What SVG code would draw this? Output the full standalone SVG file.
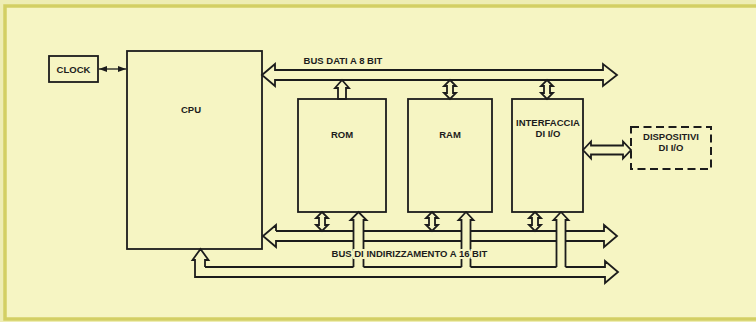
<svg xmlns="http://www.w3.org/2000/svg" width="756" height="322" viewBox="0 0 756 322">
<defs>
<style>
.bg{fill:#f6f5c3}
.frame{fill:none;stroke:#d3cf64;stroke-width:3.5}
.box{fill:none;stroke:#1c1c1c;stroke-width:1.8}
.dash{fill:none;stroke:#1c1c1c;stroke-width:2;stroke-dasharray:8 4.5}
.ln{fill:none;stroke:#1c1c1c;stroke-width:1.8;stroke-linejoin:miter}
.arr{fill:#f6f5c3;stroke:#1c1c1c;stroke-width:1.8;stroke-linejoin:miter}
.thin{fill:none;stroke:#1c1c1c;stroke-width:1.3}
text{font-family:"Liberation Sans",Arial,sans-serif;font-weight:bold;font-size:9.5px;fill:#1c1c1c;text-anchor:middle}
.halo{stroke:#f6f5c3;stroke-width:4;paint-order:stroke}
</style>
<marker id="ah" viewBox="0 0 8 6" refX="8" refY="3" markerWidth="8" markerHeight="6" markerUnits="userSpaceOnUse" orient="auto-start-reverse">
<path d="M0,0 L8,3 L0,6 z" fill="#1c1c1c"/>
</marker>
</defs>
<rect x="0" y="0" width="756" height="322" fill="#eeedb4"/>
<rect class="bg" x="5" y="6" width="760" height="313"/>
<rect class="frame" x="5" y="6" width="760" height="313"/>

<g id="clock">
<rect class="box" x="49" y="56" width="49" height="26"/>
<text x="73.5" y="72.5">CLOCK</text>
</g>
<g id="cpu">
<rect class="box" x="127" y="51" width="135" height="198"/>
<text x="191" y="113">CPU</text>
</g>
<g id="rom">
<rect class="box" x="298" y="99" width="88" height="113"/>
<text x="342" y="137.5">ROM</text>
</g>
<g id="ram">
<rect class="box" x="408" y="99" width="84" height="113"/>
<text x="450" y="137.5">RAM</text>
</g>
<g id="io">
<rect class="box" x="512" y="99" width="71" height="113"/>
<text x="548" y="125.5">INTERFACCIA</text>
<text x="548" y="136.5">DI I/O</text>
</g>
<g id="devices">
<rect class="dash" x="631" y="127" width="80" height="42"/>
<text x="671" y="139.5">DISPOSITIVI</text>
<text x="671" y="150.5">DI I/O</text>
</g>

<g id="connectors">
<!-- clock link -->
<line class="thin" x1="99" y1="69" x2="126" y2="69" marker-start="url(#ah)" marker-end="url(#ah)"/>
<!-- data bus -->
<path class="ln" d="M262,75 L275,64 L275,70 L603,70 L603,64 L617,75 L603,86 L603,80 L275,80 L275,86 Z"/>
<text x="343" y="63.5">BUS DATI A 8 BIT</text>
<!-- top arrows to data bus -->
<path class="arr" d="M342,80 L349,88 L346,88 L346,99 L338,99 L338,88 L335,88 Z"/>
<path class="arr" d="M450,80 L456,86 L453,86 L453,93 L456,93 L450,99 L444,93 L447,93 L447,86 L444,86 Z"/>
<path class="arr" d="M547,80 L553,86 L550,86 L550,93 L553,93 L547,99 L541,93 L544,93 L544,86 L541,86 Z"/>
<!-- address bus -->
<path class="ln" d="M276,231 L276,225 L263,236 L276,247 L276,241 L353.5,241 M363.5,241 L461.5,241 M470.5,241 L556.5,241 M565.5,241 L604,241 L604,247 L617,236 L604,225 L604,231 L565.5,231 M556.5,231 L470.5,231 M461.5,231 L363.5,231 M353.5,231 L276,231"/>
<!-- lower bus to CPU -->
<path class="ln" d="M205,267 L205,260 L208.5,260 L200.5,249 L192.5,260 L195,260 L195,277 L605,277 L605,283 L618,272 L605,261 L605,267 L565.5,267 M556.5,267 L470.5,267 M461.5,267 L363.5,267 M353.5,267 L205,267"/>
<!-- bottom double arrows -->
<path class="arr" d="M322,212 L328,218 L325,218 L325,225 L328,225 L322,231 L316,225 L319,225 L319,218 L316,218 Z"/>
<path class="arr" d="M432,212 L438,218 L435,218 L435,225 L438,225 L432,231 L426,225 L429,225 L429,218 L426,218 Z"/>
<path class="arr" d="M535,212 L541,218 L538,218 L538,225 L541,225 L535,231 L529,225 L532,225 L532,218 L529,218 Z"/>
<!-- bottom up arrows with stems to lower bus -->
<path class="ln" d="M353.5,267 L353.5,220 L350.5,220 L358.5,212 L366.5,220 L363.5,220 L363.5,267"/>
<path class="ln" d="M461.5,267 L461.5,220 L458.5,220 L466,212 L473.5,220 L470.5,220 L470.5,267"/>
<path class="ln" d="M556.5,267 L556.5,220 L553.5,220 L561,212 L568.5,220 L565.5,220 L565.5,267"/>
<text class="halo" x="409.5" y="256.5">BUS DI INDIRIZZAMENTO A 16 BIT</text>
<!-- interface to devices -->
<path class="arr" d="M583,150 L591,141.5 L591,145.5 L623,145.5 L623,141.5 L631,150 L623,158.5 L623,154.5 L591,154.5 L591,158.5 Z"/>
</g>
</svg>
